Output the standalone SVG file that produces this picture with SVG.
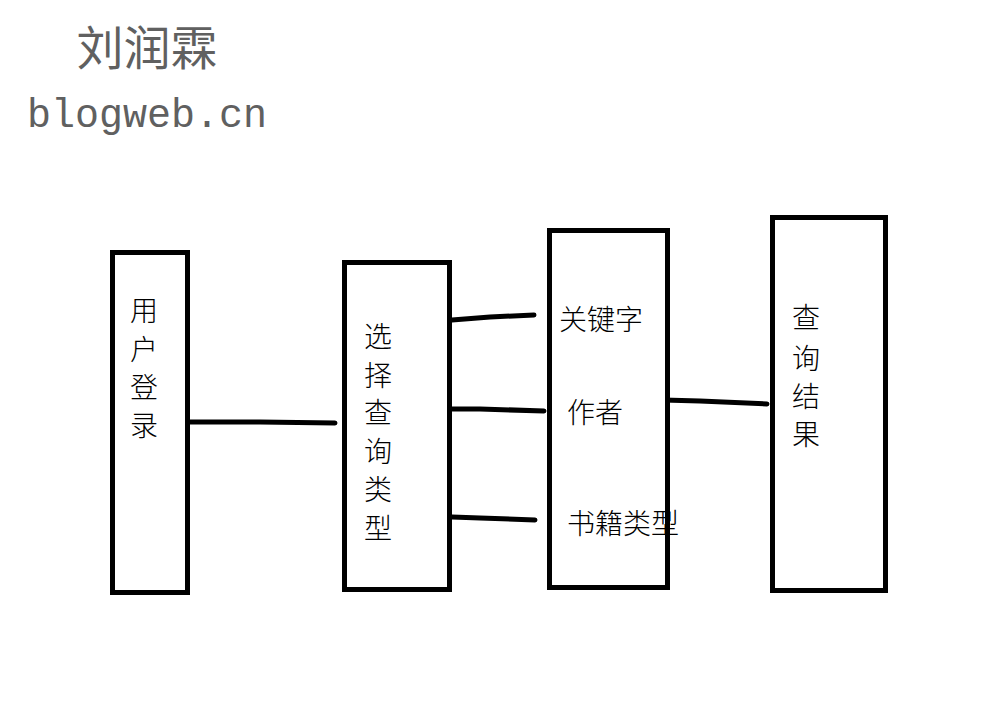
<svg xmlns="http://www.w3.org/2000/svg" width="1000" height="723" viewBox="0 0 1000 723">
<style>
.box{fill:#fff;stroke:#000;stroke-width:5}
.ln{fill:none;stroke:#000;stroke-width:5;stroke-linecap:round}
.t{font-family:"Noto Sans CJK SC","Noto Sans CJK JP",sans-serif;font-weight:300;font-size:28px;fill:#000;text-anchor:middle;dominant-baseline:central}
.h{font-family:"Noto Sans CJK SC",sans-serif;fill:#606060}
</style>
<rect width="1000" height="723" fill="#fff"/>
<g id="header">
<text class="h" x="147" y="44" font-size="47" text-anchor="middle" dominant-baseline="central">刘润霖</text>
<text x="27" y="127" font-family="Liberation Mono, monospace" font-size="40" fill="#606060">blogweb.cn</text>
</g>
<g id="connectors">
<polyline class="ln" points="190,422 260,422 335,423"/>
<polyline class="ln" points="452,320 490,317 534,315"/>
<polyline class="ln" points="452,409 480,409 544,411"/>
<polyline class="ln" points="452,517 480,518 535,520"/>
<polyline class="ln" points="663,400 700,401 767,404"/>
</g>
<g id="login">
<rect class="box" x="112.5" y="252.5" width="75" height="340"/>
<text class="t" x="144" y="309">用</text>
<text class="t" x="144" y="348">户</text>
<text class="t" x="144" y="386">登</text>
<text class="t" x="144" y="424">录</text>
</g>
<g id="select">
<rect class="box" x="344.5" y="262.5" width="105" height="327"/>
<text class="t" x="378" y="335">选</text>
<text class="t" x="378" y="374">择</text>
<text class="t" x="378" y="411">查</text>
<text class="t" x="378" y="450">询</text>
<text class="t" x="378" y="488">类</text>
<text class="t" x="378" y="527">型</text>
</g>
<g id="types">
<rect class="box" x="549.5" y="230.5" width="118" height="357"/>
<text class="t" x="601" y="318" font-size="30">关键字</text>
<text class="t" x="595" y="411" font-size="30">作者</text>
<text class="t" x="623" y="522" font-size="30">书籍类型</text>
</g>
<g id="result">
<rect class="box" x="772.5" y="217.5" width="113" height="373"/>
<text class="t" x="806" y="316">查</text>
<text class="t" x="806" y="357">询</text>
<text class="t" x="806" y="395">结</text>
<text class="t" x="806" y="433">果</text>
</g>
</svg>
